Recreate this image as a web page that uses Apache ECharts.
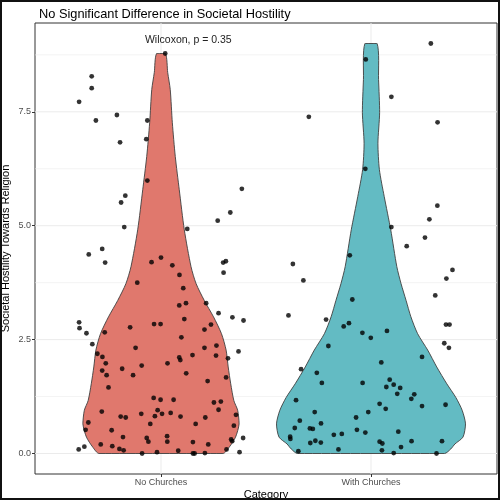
<!DOCTYPE html>
<html>
<head>
<meta charset="utf-8">
<script src="https://cdn.jsdelivr.net/npm/echarts@6/dist/echarts.min.js"></script>
<style>
  html, body { margin: 0; padding: 0; background: #fff; }
  #chart { width: 500px; height: 500px; }
</style>
</head>
<body>
<div id="chart"></div>
<script>
// categories on the x axis (plotted at 0 and 1)
const categories = ['No Churches', 'With Churches'];
const yTicks = [0, 2.5, 5, 7.5];
const yMinor = [1.25, 3.75, 6.25, 8.75];

// violin outlines: half-width (x units) at each y level
const noChurchViolinY = [0, 0.14, 0.36, 0.65, 0.95, 1.16, 1.53, 1.9, 2.27, 2.63, 3.0, 3.36, 3.73, 4.1, 4.91, 5.79, 6.52, 7.26, 7.99, 8.36, 8.78];
const noChurchViolinW = [0.295, 0.325, 0.355, 0.372, 0.365, 0.347, 0.332, 0.320, 0.310, 0.288, 0.250, 0.206, 0.167, 0.143, 0.111, 0.087, 0.068, 0.054, 0.044, 0.032, 0.021];
const withChurchViolinY = [0, 0.1, 0.21, 0.36, 0.65, 0.95, 1.23, 1.53, 1.9, 2.27, 2.63, 3.0, 3.36, 3.73, 4.1, 4.91, 5.64, 6.23, 6.81, 7.48, 8.21, 9.0];
const withChurchViolinW = [0.350, 0.380, 0.400, 0.438, 0.450, 0.434, 0.404, 0.361, 0.313, 0.270, 0.222, 0.190, 0.167, 0.143, 0.123, 0.094, 0.063, 0.040, 0.033, 0.041, 0.036, 0.029];

// jittered points: value and horizontal jitter
const noChurchY = [
  8.78, 8.28, 8.02, 7.72, 7.31, 7.43, 7.31, 6.83, 6.90, 5.99, 5.66, 5.51, 4.97, 4.93, 5.11, 5.29, 5.81,
  4.37, 4.49, 4.19, 4.20, 4.30, 4.13, 3.92, 3.75, 3.63, 4.22, 4.19, 3.97, 3.25, 3.30, 3.30, 3.08, 2.99, 2.92,
  2.88, 2.75, 2.64, 2.40, 2.66, 2.77, 2.84, 2.84, 2.95, 2.72, 2.83, 2.55, 2.32, 2.32, 2.37,
  2.24, 2.19, 2.12, 1.98, 1.82, 1.72, 1.45, 1.86, 1.72, 1.93, 1.98, 2.11, 2.05, 2.16, 1.76, 2.15, 2.09, 1.67, 1.59,
  1.22, 1.18, 1.18, 1.12, 1.14, 0.96, 0.92, 0.81, 0.79, 0.87, 0.95, 0.82, 0.87, 0.89, 0.81, 0.65, 0.65, 0.79, 0.85, 0.61,
  0.68, 0.52, 0.51, 0.36, 0.34, 0.26, 0.38, 0.26, 0.25, 0.20, 0.31, 0.27, 0.34,
  0.09, 0.15, 0.20, 0.16, 0.10, 0.07, 0.00, 0.03, 0.06, 0.00, 0.00, 0.01, 0.09, 0.03
];
const noChurchJitter = [
  0.02, -0.33, -0.33, -0.39, -0.31, -0.21, -0.065, -0.195, -0.07, -0.065, -0.17, -0.19, -0.175, 0.125, 0.27, 0.33, 0.385,
  -0.344, -0.28, -0.266, -0.045, 0.0, 0.054, 0.088, -0.113, 0.106, 0.309, 0.296, 0.298, 0.087, 0.119, 0.215, 0.274, 0.34, 0.393,
  -0.39, -0.388, -0.355, -0.327, -0.268, -0.147, -0.033, -0.002, 0.111, 0.207, 0.238, 0.097, -0.121, 0.207, 0.264,
  0.369, -0.303, -0.279, -0.263, -0.28, -0.259, -0.25, -0.185, -0.133, -0.092, 0.031, 0.087, 0.092, 0.15, 0.12, 0.262, 0.319, 0.31, 0.222,
  -0.035, -0.002, 0.06, 0.252, 0.285, 0.274, -0.282, -0.192, -0.168, -0.094, -0.016, -0.029, 0.005, 0.046, 0.093, -0.051, 0.165, 0.211, 0.357, 0.347,
  -0.346, -0.359, -0.235, -0.181, -0.068, -0.06, 0.029, 0.03, 0.152, 0.225, 0.334, 0.339, 0.391,
  -0.392, -0.365, -0.287, -0.232, -0.198, -0.178, -0.09, -0.019, 0.082, 0.152, 0.16, 0.209, 0.312, 0.374
];
const withChurchY = [
  8.65, 9.00, 7.83, 7.39, 7.27, 6.25, 5.44, 5.14, 4.97, 4.74,
  4.55, 4.35, 4.16, 3.80, 4.03, 3.84, 3.47, 3.38, 3.03, 2.94, 2.86, 2.79, 2.65, 2.54, 2.69, 2.83, 2.83, 2.36, 2.42, 2.32,
  2.12, 2.00, 1.85, 1.77, 1.55, 1.55, 1.62, 1.46, 1.51, 1.44, 1.31, 1.30, 1.20, 1.07, 1.04, 1.09, 0.98, 0.91, 1.17, 0.91,
  0.72, 0.66, 0.79, 0.56, 0.55, 0.54, 0.52, 0.46, 0.48, 0.41, 0.43, 0.37, 0.32, 0.23, 0.28, 0.24, 0.26, 0.22, 0.27, 0.27,
  0.09, 0.07, 0.14, 0.05, 0.01, 0.00
];
const withChurchJitter = [
  -0.025, 0.285, 0.097, -0.296, 0.317, -0.027, 0.316, 0.278, 0.097, 0.257,
  0.17, -0.101, -0.372, -0.322, 0.388, 0.359, 0.306, -0.089, -0.393, -0.214, -0.105, -0.13, -0.041, -0.001, 0.076, 0.357, 0.374, -0.203, 0.349, 0.371,
  0.243, 0.049, -0.333, -0.258, -0.234, -0.04, 0.089, 0.073, 0.108, 0.139, 0.125, 0.206, 0.192, 0.355, 0.243, 0.041, 0.07, -0.013, -0.357, -0.268,
  -0.339, -0.238, -0.071, -0.363, -0.291, -0.277, -0.067, -0.027, 0.13, -0.177, -0.139, -0.385, -0.384, -0.289, -0.265, -0.239, 0.041, 0.054, 0.193, 0.338,
  -0.155, 0.052, 0.143, -0.346, 0.108, 0.312
];

const annotation = { text: 'Wilcoxon, p = 0.35', x: 0.13, y: 9.08 };

const FONT = '"Liberation Sans", Arial, sans-serif';

function toPoints(cat, ys, jitter) {
  return ys.map((y, i) => [cat + jitter[i], y]);
}

function violinSeries(cat, ys, ws, color) {
  return {
    type: 'custom',
    z: 2,
    silent: true,
    data: [[cat, 0]],
    renderItem: (params, api) => {
      const pts = [];
      for (let i = 0; i < ys.length; i++) {
        pts.push(api.coord([cat + ws[i], ys[i]]));
      }
      for (let i = ys.length - 1; i >= 0; i--) {
        pts.push(api.coord([cat - ws[i], ys[i]]));
      }
      // keep the smoothed outline inside the box of its own points
      const lo = [Infinity, Infinity];
      const hi = [-Infinity, -Infinity];
      pts.forEach(p => {
        lo[0] = Math.min(lo[0], p[0]); lo[1] = Math.min(lo[1], p[1]);
        hi[0] = Math.max(hi[0], p[0]); hi[1] = Math.max(hi[1], p[1]);
      });
      return {
        type: 'polygon',
        shape: { points: pts, smooth: 0.25, smoothConstraint: [lo, hi] },
        style: { fill: color, stroke: '#404040', lineWidth: 0.9 },
      };
    },
  };
}

// grid lines as a background series: [position, direction (0 = horizontal, 1 = vertical), width]
const gridLines = []
  .concat(yTicks.map(v => [v, 0, 1]))
  .concat(yMinor.map(v => [v, 0, 0.6]))
  .concat(categories.map((c, i) => [i, 1, 1]));

const chart = echarts.init(document.getElementById('chart'));

chart.setOption({
  animation: false,
  backgroundColor: '#fff',
  title: {
    text: 'No Significant Difference in Societal Hostility',
    left: 34,
    top: 3,
    textStyle: { fontFamily: FONT, fontSize: 12.8, fontWeight: 'normal', color: '#000' },
  },
  grid: {
    left: 35,
    top: 23,
    right: 3,
    bottom: 26,
    outerBoundsMode: 'none',
    containLabel: false,
    show: true,
    borderColor: '#333',
    borderWidth: 1,
    backgroundColor: 'transparent',
  },
  xAxis: {
    type: 'value',
    min: -0.6,
    max: 1.6,
    name: 'Category',
    nameLocation: 'middle',
    nameGap: 15,
    nameMoveOverlap: false,
    nameTextStyle: { fontFamily: FONT, fontSize: 11, color: '#000' },
    axisLine: { show: false, onZero: false },
    splitLine: { show: false },
    axisTick: { show: true, customValues: [0, 1], length: 3, lineStyle: { color: '#333' } },
    axisLabel: {
      customValues: [0, 1],
      formatter: v => categories[Math.round(v)],
      fontFamily: FONT,
      fontSize: 9,
      color: '#4d4d4d',
      margin: 4,
    },
  },
  yAxis: {
    type: 'value',
    min: -0.45,
    max: 9.45,
    name: 'Societal Hostility Towards Religion',
    nameLocation: 'middle',
    nameGap: 24,
    nameMoveOverlap: false,
    nameTextStyle: { fontFamily: FONT, fontSize: 11, color: '#000' },
    axisLine: { show: false, onZero: false },
    splitLine: { show: false },
    axisTick: { show: true, customValues: yTicks, length: 3, lineStyle: { color: '#333' } },
    axisLabel: {
      customValues: yTicks,
      formatter: v => v.toFixed(1),
      fontFamily: FONT,
      fontSize: 9,
      color: '#4d4d4d',
      margin: 4,
    },
  },
  graphic: [
    {
      type: 'rect',
      shape: { x: 1, y: 1, width: 498, height: 498 },
      style: { fill: 'none', stroke: '#111', lineWidth: 2 },
      silent: true,
      z: 100,
    },
  ],
  series: [
    {
      type: 'custom',
      z: 1,
      silent: true,
      data: gridLines,
      renderItem: (params, api) => {
        const cs = params.coordSys;
        const pos = api.value(0);
        const w = api.value(2);
        if (api.value(1) === 0) {
          const p = api.coord([0, pos]);
          return {
            type: 'line',
            shape: { x1: cs.x, y1: p[1], x2: cs.x + cs.width, y2: p[1] },
            style: { stroke: '#ebebeb', lineWidth: w },
          };
        }
        const p = api.coord([pos, 0]);
        return {
          type: 'line',
          shape: { x1: p[0], y1: cs.y, x2: p[0], y2: cs.y + cs.height },
          style: { stroke: '#ebebeb', lineWidth: w },
        };
      },
    },
    violinSeries(0, noChurchViolinY, noChurchViolinW, '#e0786d'),
    violinSeries(1, withChurchViolinY, withChurchViolinW, '#63bbc3'),
    {
      type: 'scatter',
      z: 3,
      symbolSize: 4.8,
      itemStyle: { color: '#000' },
      data: toPoints(0, noChurchY, noChurchJitter),
    },
    {
      type: 'scatter',
      z: 3,
      symbolSize: 4.8,
      itemStyle: { color: '#000' },
      data: toPoints(1, withChurchY, withChurchJitter),
    },
    {
      type: 'custom',
      z: 4,
      silent: true,
      data: [[annotation.x, annotation.y]],
      renderItem: (params, api) => {
        const p = api.coord([api.value(0), api.value(1)]);
        return {
          type: 'text',
          x: p[0],
          y: p[1],
          style: {
            text: annotation.text,
            fontFamily: FONT,
            fontSize: 10.5,
            fill: '#222',
            align: 'center',
            verticalAlign: 'middle',
          },
        };
      },
    },
  ],
});
</script>
</body>
</html>
